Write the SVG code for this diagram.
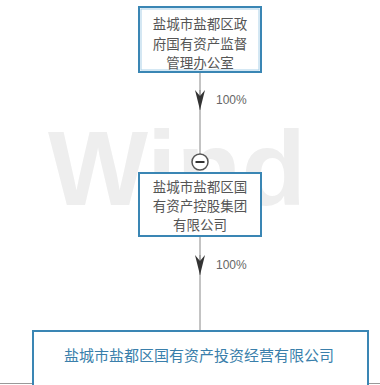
<svg xmlns="http://www.w3.org/2000/svg" width="380" height="385" viewBox="0 0 380 385">
<defs>
<style>
.box{fill:#fff;stroke:#3a86b4;stroke-width:2}
.t{font-family:"Noto Sans CJK SC","Liberation Sans",sans-serif;font-size:13.5px;fill:#555;text-anchor:middle}
.tb{font-family:"Noto Sans CJK SC","Liberation Sans",sans-serif;font-size:15px;fill:#3a7fab;text-anchor:middle}
.pct{font-family:"Liberation Sans",sans-serif;font-size:12px;fill:#666}
.ln{stroke:#888;stroke-width:1;fill:none}
</style>
<marker id="arr" viewBox="0 0 20 10" refX="20" refY="5" markerWidth="20" markerHeight="10" markerUnits="userSpaceOnUse" orient="auto">
<path d="M0,0 L20,5 L0,10 L6,5 Z" fill="#333"/>
</marker>
</defs>
<rect width="380" height="385" fill="#fff"/>
<text x="48" y="205" font-family="Liberation Sans,sans-serif" font-weight="bold" font-size="106" fill="#eeeeee">Wind</text>
<g id="connectors">
<line class="ln" x1="200" y1="72" x2="200" y2="154"/>
<path class="ln" d="M200,90 L200,110" marker-end="url(#arr)"/>
<line class="ln" x1="200" y1="236" x2="200" y2="331"/>
<path class="ln" d="M200,255 L200,275" marker-end="url(#arr)"/>
<text class="pct" x="216" y="104">100%</text>
<text class="pct" x="216" y="269">100%</text>
<line x1="0" y1="383.5" x2="380" y2="383.5" stroke="#999" stroke-width="1"/>
</g>
<g id="node1">
<rect class="box" x="139" y="7" width="122" height="65" stroke-width="2.5"/>
<rect x="141" y="9" width="118" height="61" fill="none" stroke="#a9d0e8" stroke-width="1"/>
<text class="t" x="200" y="29">盐城市盐都区政</text>
<text class="t" x="200" y="49">府国有资产监督</text>
<text class="t" x="200" y="68">管理办公室</text>
</g>
<g id="node2">
<circle cx="200" cy="162" r="8" fill="#fff" stroke="#555" stroke-width="1.5"/>
<line x1="195.5" y1="162" x2="204.5" y2="162" stroke="#333" stroke-width="2"/>
<rect class="box" x="139" y="173" width="122" height="63"/>
<text class="t" x="200" y="192">盐城市盐都区国</text>
<text class="t" x="200" y="211">有资产控股集团</text>
<text class="t" x="200" y="230">有限公司</text>
</g>
<g id="node3">
<rect class="box" x="33" y="331" width="335" height="56"/>
<text class="tb" x="199" y="361">盐城市盐都区国有资产投资经营有限公司</text>
</g>
</svg>
